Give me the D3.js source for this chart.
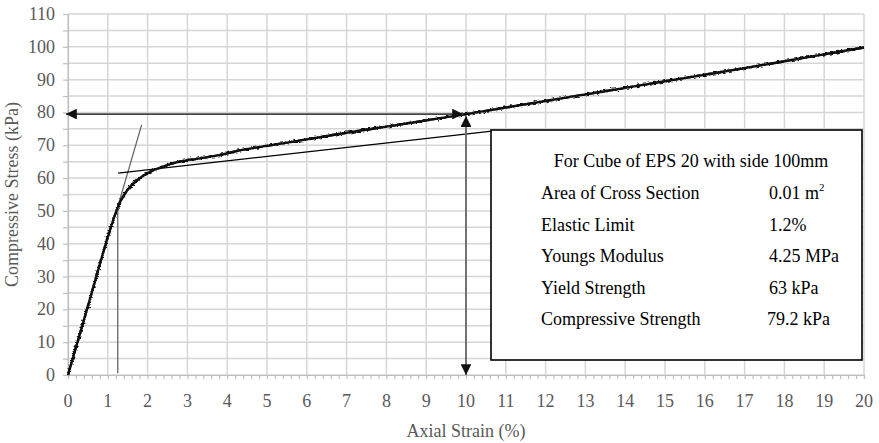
<!DOCTYPE html>
<html>
<head>
<meta charset="utf-8">
<script src="https://cdn.jsdelivr.net/npm/d3@7"></script>
<style>
  body { margin: 0; background: #fff; }
  svg { display: block; }
</style>
</head>
<body>
<div id="chart"></div>
<script>
// Curva esfuerzo-deformacion
let strain = [0, 0.5, 1.0, 1.2, 1.3, 1.5, 1.75, 2.0, 2.3, 2.8, 3.3, 3.8, 4.3, 5, 6, 7, 8, 9, 10, 11, 12, 13, 14, 15, 16, 17, 18, 19, 20];
let stress = [0, 21, 42, 49.5, 52.5, 56.5, 59.5, 61.5, 63.1, 65, 66, 67, 68.4, 69.8, 71.8, 73.8, 75.7, 77.6, 79.5, 81.5, 83.5, 85.5, 87.5, 89.5, 91.5, 93.5, 95.6, 97.7, 99.8];

let xTicks = d3.range(0, 21, 1);
let yTicks = [0, 10, 20, 30, 40, 50, 60, 70, 80, 90, 100, 110];

// Lineas auxiliares (tangentes) y flechas
let tangenteElastica = [[1.22, 50], [1.85, 76.2]];
let lineaVertical = [[1.25, 0.5], [1.25, 52]];
let tangentePlastica = [[1.26, 61.5], [10.65, 74.3]];
let resistencia = 79.2;
let deformResistencia = 10;

// Cuadro de propiedades
let titulo = 'For Cube of EPS 20 with side 100mm';
let propiedades = ['Area of Cross Section', 'Elastic Limit', 'Youngs Modulus', 'Yield Strength', 'Compressive Strength'];
let valores = ['0.01 m', '1.2%', '4.25 MPa', '63 kPa', '79.2 kPa'];

let w = 879, h = 443;
let mL = 68, mR = 15, mT = 14, mB = 68;
let fuente = "'Liberation Serif', 'Times New Roman', serif";

let svg = d3.select('#chart').append('svg')
    .attr('width', w)
    .attr('height', h);

let defs = svg.append('defs');
// filtro para simular el ruido de la medicion
let f = defs.append('filter').attr('id', 'ruido')
    .attr('x', '-5%').attr('y', '-20%').attr('width', '110%').attr('height', '140%');
f.append('feTurbulence').attr('type', 'fractalNoise').attr('baseFrequency', '0.3 0.8').attr('numOctaves', 2).attr('seed', 5).attr('result', 'n');
f.append('feDisplacementMap').attr('in', 'SourceGraphic').attr('in2', 'n').attr('scale', 5)
    .attr('xChannelSelector', 'R').attr('yChannelSelector', 'G');

defs.append('marker')
    .attr('id', 'flecha')
    .attr('viewBox', '0 0 10 10')
    .attr('refX', 10).attr('refY', 5)
    .attr('markerWidth', 8).attr('markerHeight', 6)
    .attr('markerUnits', 'strokeWidth')
    .attr('orient', 'auto-start-reverse')
    .append('path')
        .attr('d', 'M0,0 L10,5 L0,10 Z')
        .attr('fill', '#111');

let x = d3.scaleLinear().domain([0, 20]).range([mL, w - mR]);
let y = d3.scaleLinear().domain([0, 110]).range([h - mB, mT]);

// Grilla
svg.append('g')
    .selectAll('line')
    .data(d3.range(0, 111, 5))
    .enter().append('line')
        .attr('x1', x(0)).attr('x2', x(20))
        .attr('y1', d => y(d)).attr('y2', d => y(d))
        .attr('stroke', '#d6d6d6')
        .attr('stroke-width', 1.5);
svg.append('g')
    .selectAll('line')
    .data(xTicks)
    .enter().append('line')
        .attr('x1', d => x(d)).attr('x2', d => x(d))
        .attr('y1', y(0)).attr('y2', y(110))
        .attr('stroke', '#d6d6d6')
        .attr('stroke-width', 1.5);

// Eje X
svg.append('g')
    .attr('transform', `translate(0,${y(0)})`)
    .call(d3.axisBottom(x).tickValues(d3.range(0, 20.01, 0.2)).tickSize(4).tickFormat(''))
    .call(g => g.selectAll('line,path').attr('stroke', '#bfbfbf').attr('stroke-width', 1.2));
svg.append('g')
    .selectAll('text')
    .data(xTicks)
    .enter().append('text')
        .style('font-family', fuente).style('font-size', '18px').style('fill', '#595959')
        .attr('x', d => x(d))
        .attr('y', 407)
        .attr('text-anchor', 'middle')
        .text(d => d);

// Eje Y
svg.append('g')
    .attr('transform', `translate(${x(0)},0)`)
    .call(d3.axisLeft(y).tickValues(d3.range(0, 111, 5)).tickSize(5).tickFormat(''))
    .call(g => g.selectAll('line,path').attr('stroke', '#bfbfbf').attr('stroke-width', 1.2));
svg.append('g')
    .selectAll('text')
    .data(yTicks)
    .enter().append('text')
        .style('font-family', fuente).style('font-size', '18px').style('fill', '#595959')
        .attr('x', 55)
        .attr('y', d => y(d) + 6)
        .attr('text-anchor', 'end')
        .text(d => d);

// Titulos de ejes
svg.append('text')
    .style('font-family', fuente).style('font-size', '18px').style('fill', '#595959')
    .attr('x', x(10)).attr('y', 437)
    .attr('text-anchor', 'middle')
    .text('Axial Strain (%)');
svg.append('text')
    .style('font-family', fuente).style('font-size', '18px').style('fill', '#595959')
    .attr('transform', `translate(18,${(y(0) + y(110)) / 2}) rotate(-90)`)
    .attr('text-anchor', 'middle')
    .text('Compressive Stress (kPa)');

let linea = d3.line().x(d => x(d[0])).y(d => y(d[1]));

// Tangentes
svg.append('path').datum(lineaVertical).attr('d', linea)
    .attr('stroke', '#666').attr('stroke-width', 1.3).attr('fill', 'none');
svg.append('path').datum(tangenteElastica).attr('d', linea)
    .attr('stroke', '#666').attr('stroke-width', 1.3).attr('fill', 'none');
svg.append('path').datum(tangentePlastica).attr('d', linea)
    .attr('stroke', '#000').attr('stroke-width', 1.2).attr('fill', 'none');

// Curva: trazo base y trazo con ruido encima
let datos = strain.map((s, i) => [s, stress[i]]);
let lineaCurva = d3.line().x(d => x(d[0])).y(d => y(d[1])).curve(d3.curveMonotoneX);
svg.append('path').datum(datos)
    .attr('d', lineaCurva)
    .attr('fill', 'none')
    .attr('stroke', '#1a1a1a')
    .attr('stroke-width', 2.4);
svg.append('path').datum(datos)
    .attr('d', lineaCurva)
    .attr('fill', 'none')
    .attr('stroke', '#111')
    .attr('stroke-width', 2.4)
    .attr('filter', 'url(#ruido)');

// Flechas
svg.append('line')
    .attr('x1', x(deformResistencia) - 3).attr('y1', y(resistencia) - 1)
    .attr('x2', x(0) - 2).attr('y2', y(resistencia) - 1)
    .attr('stroke', '#444').attr('stroke-width', 1.8)
    .attr('marker-start', 'url(#flecha)')
    .attr('marker-end', 'url(#flecha)');
svg.append('line')
    .attr('x1', x(deformResistencia)).attr('y1', y(resistencia) + 1)
    .attr('x2', x(deformResistencia)).attr('y2', y(0))
    .attr('stroke', '#666').attr('stroke-width', 1.8)
    .attr('marker-start', 'url(#flecha)')
    .attr('marker-end', 'url(#flecha)');

// Cuadro
let bx = 491, by = 130, bw = 371, bh = 230;
svg.append('rect')
    .attr('x', bx).attr('y', by).attr('width', bw).attr('height', bh)
    .attr('fill', '#fff').attr('stroke', '#000').attr('stroke-width', 1.6);
svg.append('text')
    .style('font-family', fuente).style('font-size', '18px').style('fill', '#000')
    .attr('x', 691).attr('y', 167)
    .attr('text-anchor', 'middle')
    .text(titulo);
svg.append('g').selectAll('text')
    .data(propiedades)
    .enter().append('text')
        .style('font-family', fuente).style('font-size', '18px').style('fill', '#000')
        .attr('x', 541)
        .attr('y', (d, i) => 199 + i * 31.5)
        .text(d => d);
let vals = svg.append('g').selectAll('text')
    .data(valores)
    .enter().append('text')
        .style('font-family', fuente).style('font-size', '18px').style('fill', '#000')
        .attr('x', (d, i) => i == 4 ? 767 : 769)
        .attr('y', (d, i) => 199 + i * 31.5)
        .text(d => d);
vals.filter((d, i) => i == 0).append('tspan')
    .attr('dy', -8)
    .style('font-size', '11px')
    .text('2');
</script>
</body>
</html>
